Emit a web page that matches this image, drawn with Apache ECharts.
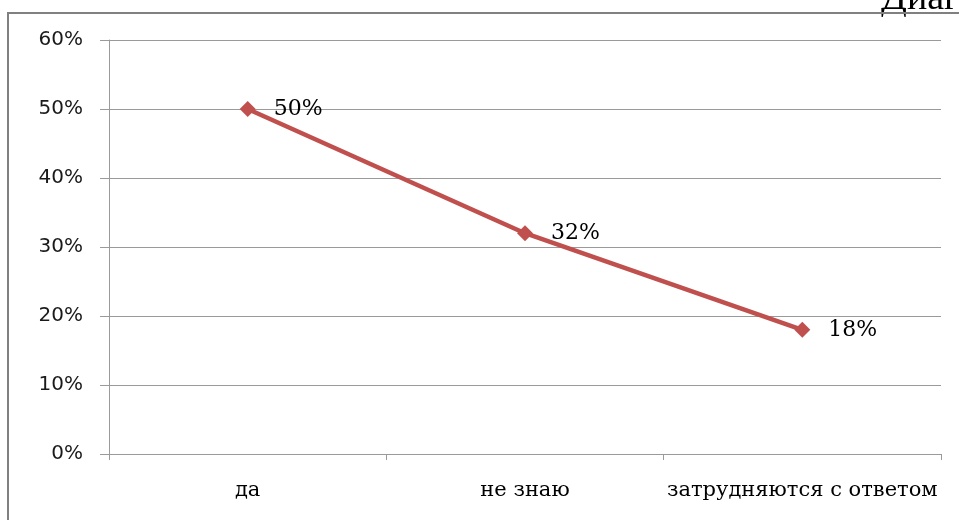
<!DOCTYPE html>
<html>
<head>
<meta charset="utf-8">
<script src="https://cdn.jsdelivr.net/npm/echarts@6/dist/echarts.min.js"></script>
<style>
html, body { margin: 0; padding: 0; background: #fff; }
#chart { width: 959px; height: 520px; }
</style>
</head>
<body>
<div id="chart"></div>
<script>
// Answer categories and their shares, in percent
var categories = ['да', 'не знаю', 'затрудняются с ответом'];
var shares = [50, 32, 18];
var yTicks = { min: 0, max: 60, step: 10 };

var frameGray = '#808080';
var gridGray = '#9a9a9a';
var chart = echarts.init(document.getElementById('chart'), null, { renderer: 'canvas' });

chart.setOption({
  backgroundColor: '#ffffff',
  animation: false,
  grid: { left: 109, right: 18, top: 40, bottom: 66, containLabel: false },
  graphic: [
    {
      type: 'text',
      x: 881,
      y: 18,
      style: {
        text: 'Диаграмма',
        font: '38px "Liberation Serif", serif',
        fill: '#000',
        verticalAlign: 'bottom'
      },
      silent: true
    },
    {
      type: 'rect',
      shape: { x: 8, y: 13, width: 980, height: 540 },
      style: { fill: 'none', stroke: frameGray, lineWidth: 2 },
      silent: true
    }
  ],
  xAxis: {
    type: 'category',
    data: categories,
    boundaryGap: true,
    axisLine: { show: true, lineStyle: { color: gridGray, width: 1 } },
    axisTick: { show: true, length: 6, interval: 0, lineStyle: { color: gridGray } },
    axisLabel: {
      interval: 0,
      margin: 26,
      color: '#000',
      fontFamily: 'DejaVu Serif',
      fontSize: 21
    },
    splitLine: { show: false }
  },
  yAxis: {
    type: 'value',
    min: yTicks.min,
    max: yTicks.max,
    interval: yTicks.step,
    axisLine: { show: true, lineStyle: { color: gridGray, width: 1 } },
    axisTick: { show: true, length: 9, lineStyle: { color: gridGray } },
    axisLabel: {
      formatter: '{value}%',
      margin: 26,
      color: '#1a1a1a',
      fontFamily: 'DejaVu Sans',
      fontSize: 20
    },
    splitLine: { show: true, lineStyle: { color: gridGray, width: 1 } }
  },
  series: [{
    type: 'line',
    data: shares,
    symbol: 'diamond',
    symbolSize: 16,
    lineStyle: { color: '#C0504D', width: 4.5 },
    itemStyle: { color: '#C0504D' },
    label: {
      show: true,
      position: 'right',
      distance: 18,
      formatter: '{c}%',
      color: '#000',
      fontFamily: 'DejaVu Serif',
      fontSize: 22
    }
  }]
});
</script>
</body>
</html>
